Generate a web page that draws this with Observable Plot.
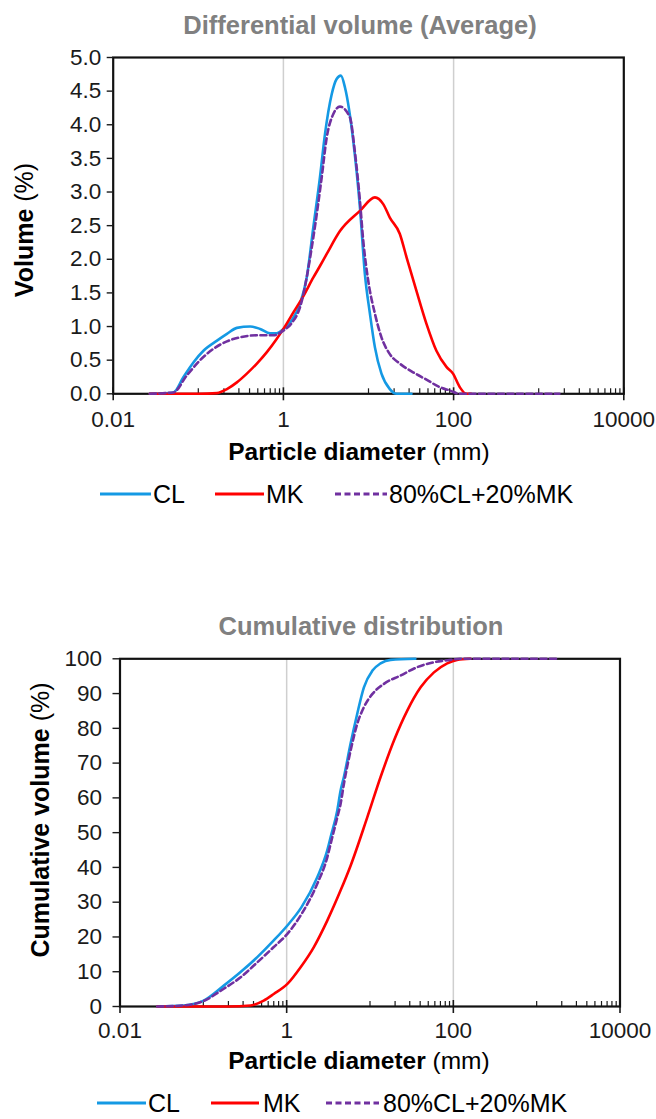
<!DOCTYPE html>
<html>
<head>
<meta charset="utf-8">
<script src="https://cdn.jsdelivr.net/npm/d3@7"></script>
<script src="https://cdn.jsdelivr.net/npm/@observablehq/plot@0.6"></script>
<style>
  body { margin: 0; background: #fff; }
  #page { position: relative; width: 656px; height: 1119px; overflow: hidden; background: #fff; }
  #page svg { position: absolute; left: 0; }
</style>
</head>
<body>
<div id="page"></div>
<script>
// ---------- axis / label data ----------
const xTickValues = [0.01, 1, 100, 10000];
const xTickLabels = ["0.01", "1", "100", "10000"];
const xMinorTicks = [0.1, 0.2, 0.3, 0.4, 0.5, 0.6, 0.7, 0.8, 0.9,
                     10, 20, 30, 40, 50, 60, 70, 80, 90,
                     1000, 2000, 3000, 4000, 5000, 6000, 7000, 8000, 9000];
const gridValues = [1, 100];
const diffYTicks = [0, 0.5, 1, 1.5, 2, 2.5, 3, 3.5, 4, 4.5, 5];
const cumYTicks = [0, 10, 20, 30, 40, 50, 60, 70, 80, 90, 100];
const seriesNames = ["CL", "MK", "80%CL+20%MK"];
const seriesColors = ["#1499e4", "#ff0000", "#7030a0"];
const titles = ["Differential volume (Average)", "Cumulative distribution"];
const xTitleBold = "Particle diameter";
const xTitleUnit = " (mm)";
const yTitlesBold = ["Volume", "Cumulative volume"];
const yTitleUnit = " (%)";

// ---------- differential volume (%) ----------
const diffCL_d = [0.027, 0.051, 0.067, 0.088, 0.115, 0.166, 0.217, 0.284, 0.407, 0.533, 0.698, 0.836, 1.0, 1.25, 1.57, 1.88, 2.25, 2.69, 3.08, 3.69, 4.22, 4.74, 5.3, 6.62, 7.93, 9.07, 10.4, 11.9, 14.2, 17.8, 21.4, 32];
const diffCL_v = [0, 0.02, 0.25, 0.47, 0.64, 0.79, 0.89, 0.98, 1.0, 0.965, 0.9, 0.9, 0.965, 1.09, 1.34, 1.73, 2.48, 3.22, 3.86, 4.45, 4.68, 4.73, 4.55, 3.76, 2.77, 1.78, 1.19, 0.69, 0.3, 0.07, 0, 0];

const diffMK_d = [0.027, 0.1, 0.166, 0.217, 0.284, 0.372, 0.488, 0.639, 0.837, 1.0, 1.31, 1.71, 2.25, 2.69, 3.23, 4.62, 7.93, 11.9, 14.9, 17.8, 23.3, 28, 36.6, 48, 62.8, 82.4, 98.4, 118, 141, 160];
const diffMK_v = [0, 0, 0.01, 0.07, 0.17, 0.3, 0.45, 0.62, 0.82, 0.965, 1.21, 1.45, 1.73, 1.9, 2.08, 2.42, 2.72, 2.92, 2.82, 2.62, 2.38, 2.03, 1.53, 1.04, 0.64, 0.4, 0.3, 0.1, 0, 0];

const diffMix_d = [0.027, 0.051, 0.073, 0.105, 0.151, 0.217, 0.31, 0.488, 0.764, 1.0, 1.25, 1.57, 2.25, 2.82, 3.23, 3.86, 4.62, 6.05, 6.9, 7.93, 8.67, 9.93, 11.9, 14.2, 17.8, 23.3, 33.4, 48, 68.7, 90, 118, 1750];
const diffMix_v = [0, 0.02, 0.27, 0.5, 0.67, 0.78, 0.84, 0.87, 0.87, 0.94, 1.05, 1.29, 2.33, 3.22, 3.81, 4.16, 4.27, 4.11, 3.61, 2.87, 2.28, 1.68, 1.19, 0.84, 0.59, 0.45, 0.32, 0.21, 0.1, 0.05, 0, 0];

// ---------- cumulative volume (%) ----------
const cumCL_d = [0.028, 0.058, 0.101, 0.176, 0.28, 0.444, 0.7, 1.02, 1.5, 2.33, 3.07, 3.37, 4.05, 4.44, 4.86, 5.85, 7.03, 8.45, 10.7, 13.4, 17.7, 35];
const cumCL_v = [0, 0.3, 1.7, 6.0, 9.9, 14.2, 19.0, 23.3, 28.5, 37.2, 44.9, 48.7, 56.4, 62.1, 66.0, 75.6, 84.2, 91.8, 96.6, 98.7, 99.7, 100];

const cumMK_d = [0.028, 0.2, 0.37, 0.53, 0.7, 1.02, 1.47, 2.12, 3.07, 4.44, 5.85, 9.27, 13.4, 19.4, 28, 40.5, 58.5, 84.5, 111, 160];
const cumMK_v = [0, 0, 0.3, 1.7, 3.6, 6.5, 11.3, 17.1, 24.7, 33.4, 40.5, 54.4, 66.0, 76.5, 85.1, 91.8, 96.1, 98.7, 99.7, 100];

const cumMix_d = [0.028, 0.058, 0.101, 0.176, 0.28, 0.444, 0.7, 1.02, 1.5, 2.33, 3.07, 3.37, 4.05, 4.44, 4.86, 5.85, 7.03, 8.45, 10.7, 14.7, 23.3, 36.9, 58.5, 92.7, 120, 1800];
const cumMix_v = [0, 0.3, 1.6, 5.1, 8.4, 12.7, 17.1, 20.9, 26.5, 35.3, 42.9, 46.8, 54.4, 58.3, 64.0, 73.6, 81.3, 86.1, 89.9, 92.8, 95.2, 97.6, 99.0, 99.7, 100, 100];

// ---------- build tables ----------
function rowsOf(ds, vs) { return ds.map((d, i) => ({d, v: vs[i]})); }
const diffSeries = [rowsOf(diffCL_d, diffCL_v), rowsOf(diffMK_d, diffMK_v), rowsOf(diffMix_d, diffMix_v)];
const cumSeries = [rowsOf(cumCL_d, cumCL_v), rowsOf(cumMK_d, cumMK_v), rowsOf(cumMix_d, cumMix_v)];

const FONT = "'Liberation Sans', Arial, Helvetica, sans-serif";
const xDomain = [0.01, 10000];

function makeChart(cfg) {
  const plotH = cfg.H - cfg.mt - cfg.mb;
  const lineMarks = cfg.series.map((rows, i) =>
    Plot.line(rows, {
      x: "d", y: "v", stroke: seriesColors[i], strokeWidth: 2.6,
      curve: "monotone-x",
      strokeDasharray: i === 2 ? "6,3.5" : null
    })
  );
  const svg = Plot.plot({
    width: 656, height: cfg.H,
    marginTop: cfg.mt, marginBottom: cfg.mb, marginLeft: cfg.ml, marginRight: cfg.mr,
    style: {fontFamily: FONT, fontSize: "22.5px", color: "#1a1a1a", background: "white"},
    x: {type: "log", domain: xDomain},
    y: {domain: cfg.yDomain},
    marks: [
      Plot.ruleX(gridValues, {stroke: "#cfcfcf", strokeWidth: 1.5}),
      Plot.ruleX(xTickValues, {stroke: "#1a1a1a", strokeWidth: 1.6, insetTop: plotH - 6, insetBottom: -7}),
      Plot.ruleX(xMinorTicks, {stroke: "#1a1a1a", strokeWidth: 1.2, insetTop: plotH - 5}),
      Plot.frame({stroke: "#111", strokeWidth: 2.2}),
      ...lineMarks,
      Plot.axisY({ticks: cfg.yTicks, tickFormat: cfg.yFmt, tickSize: cfg.yTickLen, tickPadding: cfg.yPad,
                  label: null, strokeWidth: 1.4, fontSize: 22.5}),
      Plot.axisX({ticks: xTickValues, tickFormat: d => xTickLabels[xTickValues.indexOf(d)],
                  tickSize: 0, tickPadding: cfg.xPad, label: null, fontSize: 22.5})
    ]
  });
  svg.style.top = cfg.top + "px";
  const s = d3.select(svg);
  const off = cfg.top;
  // chart title
  s.append("text").attr("x", cfg.titleX).attr("y", cfg.titleY - off)
    .attr("text-anchor", "middle").attr("font-family", FONT).attr("font-weight", "bold")
    .attr("font-size", 25.5).attr("fill", "#808080").text(cfg.title);
  // x axis title
  const xt = s.append("text").attr("x", cfg.xTitleX).attr("y", cfg.xTitleY - off)
    .attr("text-anchor", "middle").attr("dominant-baseline", "central")
    .attr("font-family", FONT).attr("font-size", 24.5).attr("fill", "#000");
  xt.append("tspan").attr("font-weight", "bold").text(xTitleBold);
  xt.append("tspan").text(xTitleUnit);
  // y axis title
  const yt = s.append("text")
    .attr("transform", `translate(${cfg.yTitleX},${cfg.yTitleY - off}) rotate(-90)`)
    .attr("text-anchor", "middle").attr("dominant-baseline", "central")
    .attr("font-family", FONT).attr("font-size", 25).attr("fill", "#000");
  yt.append("tspan").attr("font-weight", "bold").text(cfg.yTitle);
  yt.append("tspan").text(yTitleUnit);
  // legend
  const lg = s.append("g").attr("font-family", FONT).attr("font-size", 25).attr("text-anchor", "start");
  cfg.legend.forEach((p, i) => {
    lg.append("line").attr("x1", p[0]).attr("x2", p[1])
      .attr("y1", cfg.legendY - off).attr("y2", cfg.legendY - off)
      .attr("stroke", seriesColors[i]).attr("stroke-width", 3)
      .attr("stroke-dasharray", i === 2 ? "6,3.5" : null);
    lg.append("text").attr("x", p[2]).attr("y", cfg.legendY - off)
      .attr("text-anchor", "start")
      .attr("dominant-baseline", "central").attr("fill", "#000").text(seriesNames[i]);
  });
  return svg;
}

const page = document.getElementById("page");
page.appendChild(makeChart({
  top: 0, H: 560, mt: 57, mb: 560 - 393.3, ml: 112.7, mr: 656 - 623.3,
  series: diffSeries, yDomain: [0, 5], yTicks: diffYTicks, yFmt: d3.format(".1f"),
  yTickLen: 6, yPad: 6, xPad: 17,
  title: titles[0], titleX: 360, titleY: 34,
  xTitleX: 359, xTitleY: 451,
  yTitle: yTitlesBold[0], yTitleX: 24, yTitleY: 230,
  legendY: 494,
  legend: [[100, 151, 153], [215, 264, 266], [335, 387, 389]]
}));
page.appendChild(makeChart({
  top: 560, H: 559, mt: 658.3 - 560, mb: 559 - (1006 - 560), ml: 119.5, mr: 656 - 619.5,
  series: cumSeries, yDomain: [0, 100], yTicks: cumYTicks, yFmt: d => String(d),
  yTickLen: 7, yPad: 11, xPad: 16,
  title: titles[1], titleX: 361, titleY: 635,
  xTitleX: 359, xTitleY: 1060,
  yTitle: yTitlesBold[1], yTitleX: 40, yTitleY: 820,
  legendY: 1103,
  legend: [[97, 146, 148], [211, 259, 263], [326, 379, 383]]
}));
</script>
</body>
</html>
